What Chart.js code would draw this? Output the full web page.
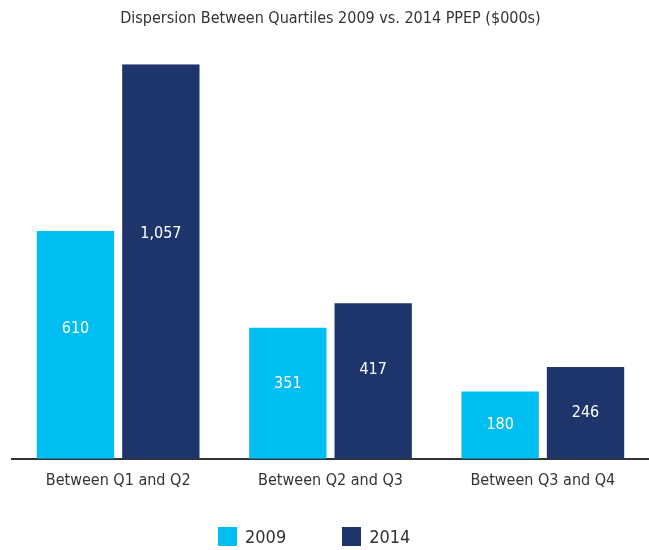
<!DOCTYPE html>
<html>
<head>
<meta charset="utf-8">
<script src="https://cdn.jsdelivr.net/npm/chart.js@4"></script>
<style>
  html, body { margin: 0; padding: 0; background: #fff; }
  #wrap { position: relative; width: 649px; height: 550px; }
  #legend { position: absolute; left: 218px; top: 526px; display: flex; align-items: center;
            font-family: 'Liberation Sans Narrow', 'DejaVu Sans Condensed', sans-serif; font-size: 18px; color: #333; }
  .item { display: flex; align-items: center; margin-right: 56px; }
  .box { width: 19px; height: 19px; margin-right: 8px; }
</style>
</head>
<body>
<div id="wrap">
  <canvas id="chart" width="649" height="550"></canvas>
  <div id="legend"></div>
</div>
<script>
// ── Data ──────────────────────────────────────────────────────────────────────
const categories = ['Between Q1 and Q2', 'Between Q2 and Q3', 'Between Q3 and Q4'];
const seriesNames = ['2009', '2014'];
const values2009 = [610, 351, 180];
const values2014 = [1057, 417, 246];
const colors = ['#00BEF2', '#1E356C'];

const FONT = "'Liberation Sans Narrow', 'DejaVu Sans Condensed', sans-serif";

// ── Value labels inside the bars ──────────────────────────────────────────────
const barLabels = {
  id: 'barLabels',
  afterDatasetsDraw(chart) {
    const ctx = chart.ctx;
    ctx.save();
    ctx.fillStyle = '#fff';
    ctx.font = '16px ' + FONT;
    ctx.textAlign = 'center';
    ctx.textBaseline = 'middle';
    chart.data.datasets.forEach((ds, i) => {
      chart.getDatasetMeta(i).data.forEach((bar, j) => {
        const p = bar.getProps(['x', 'y', 'base'], true);
        const h = p.base - p.y;
        const y = p.base - h * (h > 100 ? 0.57 : 0.5);
        ctx.fillText(ds.data[j].toLocaleString('en-US'), p.x, y);
      });
    });
    ctx.restore();
  }
};

const chart = new Chart(document.getElementById('chart'), {
  type: 'bar',
  data: {
    labels: categories,
    datasets: [
      { label: seriesNames[0], data: values2009, backgroundColor: colors[0] },
      { label: seriesNames[1], data: values2014, backgroundColor: colors[1] }
    ]
  },
  options: {
    responsive: false,
    animation: false,
    categoryPercentage: 0.804,
    barPercentage: 0.906,
    layout: { padding: { left: 12, right: 0, top: 0, bottom: 48 } },
    plugins: {
      legend: { display: false },
      tooltip: { enabled: false },
      title: {
        display: true,
        text: 'Dispersion Between Quartiles 2009 vs. 2014 PPEP ($000s)',
        color: '#333',
        font: { family: FONT, size: 16, weight: 'normal' },
        padding: { top: 9, bottom: 36 }
      }
    },
    scales: {
      x: {
        grid: { display: false, drawTicks: false },
        border: { color: '#333', width: 2 },
        ticks: { color: '#333', font: { family: FONT, size: 16 }, padding: 12 }
      },
      y: { display: false, min: 0, max: 1057 }
    }
  },
  plugins: [barLabels]
});

// ── HTML legend ───────────────────────────────────────────────────────────────
const legend = document.getElementById('legend');
chart.data.datasets.forEach(ds => {
  const item = document.createElement('div');
  item.className = 'item';
  item.innerHTML = `<span class="box" style="background:${ds.backgroundColor}"></span>${ds.label}`;
  legend.appendChild(item);
});
</script>
</body>
</html>
